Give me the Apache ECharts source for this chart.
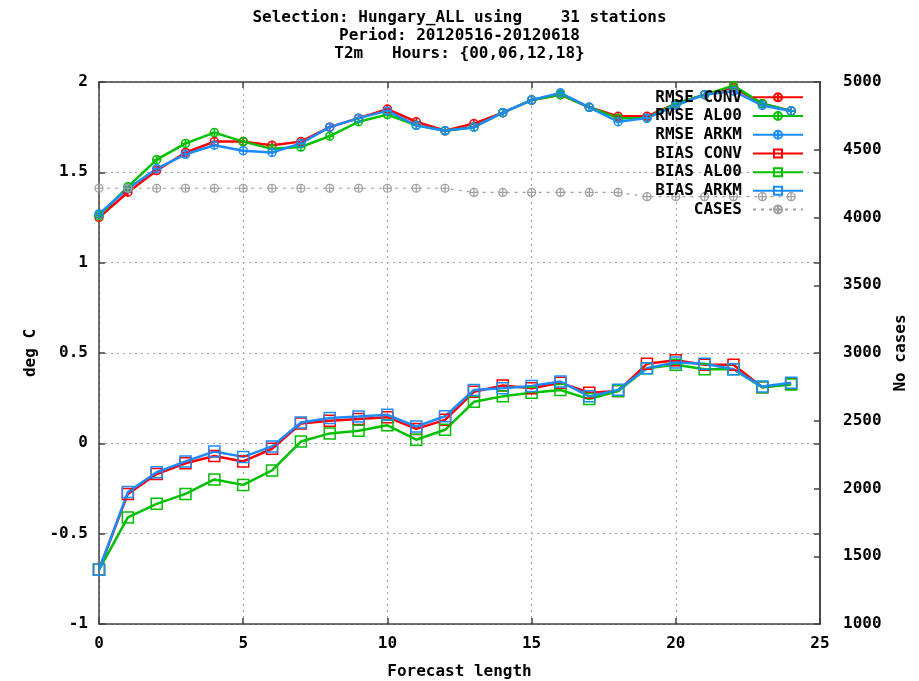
<!DOCTYPE html>
<html><head><meta charset="utf-8">
<script src="https://cdn.jsdelivr.net/npm/echarts@6/dist/echarts.min.js"></script>
<style>html,body{margin:0;padding:0;background:#fff;overflow:hidden}#c{width:919px;height:681px}</style>
</head><body><div id="c"></div>
<script>
const leadTimes = [0,1,2,3,4,5,6,7,8,9,10,11,12,13,14,15,16,17,18,19,20,21,22,23,24];
const rmseConv = [1.25,1.39,1.51,1.61,1.67,1.67,1.65,1.67,1.75,1.80,1.85,1.78,1.73,1.77,1.83,1.90,1.93,1.86,1.81,1.81,1.88,1.93,1.97,1.88,1.84];
const rmseAl00 = [1.26,1.42,1.57,1.66,1.72,1.67,1.63,1.64,1.70,1.78,1.82,1.76,1.73,1.75,1.83,1.90,1.93,1.86,1.80,1.80,1.88,1.93,1.98,1.88,1.84];
const rmseArkm = [1.27,1.41,1.52,1.60,1.65,1.62,1.61,1.66,1.75,1.80,1.84,1.76,1.73,1.75,1.83,1.90,1.94,1.86,1.78,1.80,1.87,1.93,1.95,1.87,1.84];
const biasConv = [-0.70,-0.28,-0.17,-0.11,-0.07,-0.10,-0.03,0.11,0.125,0.135,0.145,0.08,0.13,0.285,0.32,0.305,0.335,0.28,0.29,0.44,0.46,0.435,0.435,0.31,0.33];
const biasAl00 = [-0.70,-0.41,-0.335,-0.28,-0.20,-0.23,-0.15,0.01,0.055,0.07,0.10,0.02,0.075,0.23,0.26,0.28,0.295,0.245,0.29,0.415,0.435,0.41,0.41,0.31,0.325];
const biasArkm = [-0.70,-0.27,-0.16,-0.10,-0.045,-0.075,-0.017,0.115,0.14,0.148,0.158,0.093,0.15,0.295,0.305,0.318,0.342,0.26,0.296,0.416,0.447,0.44,0.41,0.314,0.336];
const cases = [4216,4216,4216,4216,4216,4216,4216,4216,4216,4216,4216,4216,4216,4185,4185,4185,4185,4185,4185,4154,4154,4154,4154,4154,4154];
const titleLines = ['Selection: Hungary_ALL using    31 stations','Period: 20120516-20120618','T2m   Hours: {00,06,12,18}'];

const FONT = 'DejaVu Sans Mono';
const txt = {fontFamily: FONT, fontWeight: 'bold', fontSize: 16, color: '#000'};
const CPLUS = 'path://M0,-10A10,10 0 1,1 0,10A10,10 0 1,1 0,-10ZM-10,0L10,0M0,-10L0,10';

function pairs(v){ return leadTimes.map((x,i)=>[x, v[i]]); }
function mk(name, vals, color, sym, size, yIdx, opts){
  opts = opts || {};
  return {
    name, type:'line', yAxisIndex:yIdx, data:pairs(vals),
    symbol:sym, symbolSize:size, showSymbol:true, animation:false,
    lineStyle:{color, width: opts.width || 2.5, type: opts.dash || 'solid'},
    itemStyle:{color:'rgba(0,0,0,0)', borderColor:color, borderWidth: opts.bw || 1.5},
    emphasis:{disabled:true}
  };
}
const RED='#ff0000', GREEN='#00c000', BLUE='#1a8cff', GRAY='#a0a0a0';
const series = [
  mk('RMSE CONV', rmseConv, RED, CPLUS, 8, 0),
  mk('RMSE AL00', rmseAl00, GREEN, CPLUS, 8, 0),
  mk('RMSE ARKM', rmseArkm, BLUE, CPLUS, 8, 0),
  mk('BIAS CONV', biasConv, RED, 'rect', 11, 0),
  mk('BIAS AL00', biasAl00, GREEN, 'rect', 11, 0),
  mk('BIAS ARKM', biasArkm, BLUE, 'rect', 11, 0),
  mk('CASES', cases, GRAY, CPLUS, 8, 1, {width:1.2, dash:[3,5], bw:1.2})
];
const axisLine = {show:true, onZero:false, lineStyle:{color:'#404040', width:1.5}};
const tick = {show:true, inside:true, length:6, lineStyle:{color:'#404040', width:1.5}};
const grid = {show:true, lineStyle:{color:GRAY, type:[2,4], width:1}};
const option = {
  backgroundColor:'#fff',
  animation:false,
  title: titleLines.map((t,i)=>({text:t, left:'center', top:9+i*18, padding:0,
    textStyle:Object.assign({}, txt, {lineHeight:18})})),
  legend:{orient:'vertical', right:110, top:83, align:'right', itemWidth:50, itemHeight:10, itemGap:0,
    textStyle:Object.assign({}, txt, {lineHeight:18.7, padding:[0,6,0,0]}), selectedMode:false,
    data:series.map(s=>s.name)},
  grid:{left:99, right:99, top:82, bottom:57, containLabel:false, outerBoundsMode:'none'},
  xAxis:[
    {type:'value', min:0, max:25, interval:5, position:'bottom', axisLine, axisTick:tick, splitLine:grid,
      axisLabel:Object.assign({}, txt, {margin:12}),
      name:'Forecast length', nameLocation:'middle', nameGap:40, nameTextStyle:txt},
    {type:'value', min:0, max:25, interval:5, position:'top', axisLine, axisTick:tick, splitLine:{show:false},
      axisLabel:{show:false}}
  ],
  yAxis:[
    {type:'value', min:-1, max:2, interval:0.5, position:'left', axisLine, axisTick:tick, splitLine:grid,
      axisLabel:Object.assign({}, txt, {margin:11}),
      name:'deg C', nameLocation:'middle', nameGap:60, nameRotate:90, nameTextStyle:txt},
    {type:'value', min:1000, max:5000, interval:500, position:'right', axisLine, axisTick:tick, splitLine:{show:false},
      axisLabel:Object.assign({}, txt, {margin:23, formatter:v=>String(v)}),
      name:'No cases', nameLocation:'middle', nameGap:72, nameRotate:90, nameTextStyle:txt},
    {type:'value', min:-1, max:2, interval:0.5, position:'right', axisLine, axisTick:tick, splitLine:{show:false},
      axisLabel:{show:false}}
  ],
  series
};
const chart = echarts.init(document.getElementById('c'), null, {renderer:'canvas'});
chart.setOption(option);
</script></body></html>
